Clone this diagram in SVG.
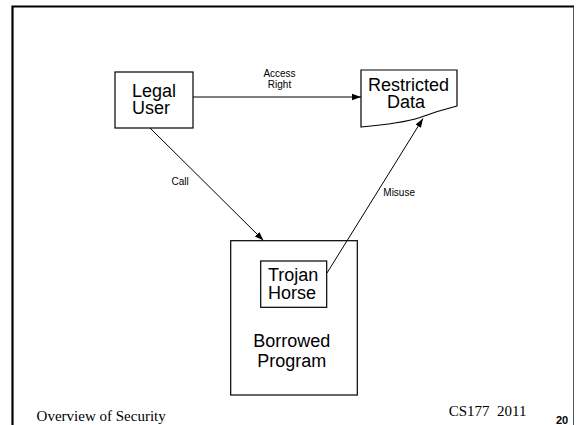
<svg xmlns="http://www.w3.org/2000/svg" width="576" height="425" viewBox="0 0 576 425">
  <defs>
    <marker id="arrow" viewBox="0 0 10 10" refX="10" refY="5" markerWidth="9" markerHeight="9" markerUnits="userSpaceOnUse" orient="auto">
      <path d="M0,1.5 L10,5 L0,8.5 Z" fill="#000"/>
    </marker>
    <style>
      .box { fill: #fff; stroke: #000; stroke-width: 1.2; }
      .edge { fill: none; stroke: #000; stroke-width: 1; marker-end: url(#arrow); }
      .node { font-family: "Liberation Sans", Arial, sans-serif; font-size: 18px; fill: #000; }
      .lbl { font-family: "Liberation Sans", Arial, sans-serif; font-size: 10px; fill: #000; }
      .foot { font-family: "Liberation Serif", "Times New Roman", serif; font-size: 15px; fill: #000; white-space: pre; }
      .num { font-family: "Liberation Sans", Arial, sans-serif; font-size: 11px; font-weight: bold; fill: #000; }
    </style>
  </defs>
  <rect width="576" height="425" fill="#fff"/>

  <!-- slide frame -->
  <g id="frame">
    <path d="M12.5,425 V6.5 H574" fill="none" stroke="#000" stroke-width="2.2"/>
    <line x1="573.5" y1="7" x2="573.5" y2="425" stroke="#555" stroke-width="1"/>
  </g>

  <g id="legal-user">
    <rect class="box" x="115" y="72" width="78" height="56"/>
    <text class="node" x="132" y="96.7">Legal</text>
    <text class="node" x="132" y="114.3">User</text>
  </g>

  <g id="restricted-data">
    <path class="box" d="M361,70 H457 V106 C441,110 432,113 420,117.5 C405,122.5 390,124.5 361,127 Z"/>
    <text class="node" x="368" y="90.7">Restricted</text>
    <text class="node" x="387" y="108.3">Data</text>
  </g>

  <g id="borrowed-program">
    <rect class="box" x="230.7" y="240.7" width="126.6" height="154.3"/>
    <text class="node" x="291.7" y="346.7" text-anchor="middle">Borrowed</text>
    <text class="node" x="291.7" y="366.7" text-anchor="middle">Program</text>
  </g>

  <g id="trojan-horse">
    <rect class="box" x="260.7" y="261" width="66" height="46.3"/>
    <text class="node" x="268" y="280.5">Trojan</text>
    <text class="node" x="268" y="299">Horse</text>
  </g>

  <!-- arrows drawn over the boxes so the Misuse line shows inside Borrowed Program -->
  <g id="connectors">
    <line class="edge" x1="193" y1="97" x2="361" y2="97"/>
    <line class="edge" x1="150" y1="128" x2="263.5" y2="240.5"/>
    <line class="edge" x1="327" y1="273" x2="423" y2="118.5"/>
    <text class="lbl" x="279.5" y="77.3" text-anchor="middle">Access</text>
    <text class="lbl" x="279.5" y="88.3" text-anchor="middle">Right</text>
    <text class="lbl" x="171.5" y="185">Call</text>
    <text class="lbl" x="383.3" y="196">Misuse</text>
  </g>

  <g id="footer">
    <text class="foot" x="36.6" y="421">Overview of Security</text>
    <text class="foot" x="448.7" y="415.5">CS177  2011</text>
    <text class="num" x="556" y="424">20</text>
  </g>
</svg>
